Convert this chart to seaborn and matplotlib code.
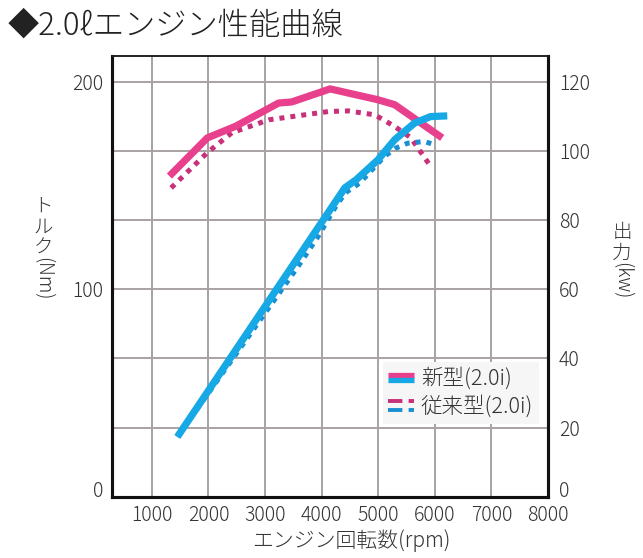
import matplotlib
matplotlib.use("Agg")
import matplotlib.pyplot as plt
import seaborn as sns
import pandas as pd
from matplotlib.lines import Line2D
from matplotlib.legend_handler import HandlerBase

# ---- data ----
rpm_torque_new = [1310, 1980, 2480, 3240, 3470, 4150, 4990, 5290, 6130]
nm_torque_new = [154.5, 172.9, 178.5, 189.7, 190.2, 196.5, 191.3, 188.9, 172.9]

rpm_torque_old = [1340, 1980, 2415, 3065, 4120, 4470, 4940, 5290, 5575, 5905]
nm_torque_old = [148.8, 165.8, 175.4, 181.6, 185.6, 185.9, 184.0, 178.4, 173.0, 160.0]

rpm_power_new = [1450, 4410, 4615, 4995, 5290, 5640, 5925, 6220]
kw_power_new = [17.3, 89.3, 91.7, 97.4, 103.2, 108.0, 109.9, 110.1]

rpm_power_old = [1450, 3590, 3940, 4235, 4415, 4675, 5110, 5315, 5520, 5815, 5990]
kw_power_old = [17.3, 66.7, 75.3, 83.5, 87.8, 90.7, 98.4, 100.8, 102.2, 102.7, 101.8]

x_ticks = [1000, 2000, 3000, 4000, 5000, 6000, 7000, 8000]
left_ticks = [0, 100, 200]
right_ticks = [0, 20, 40, 60, 80, 100, 120]

title = "◆2.0ℓエンジン性能曲線"
x_label = "エンジン回転数(rpm)"
legend_labels = ["新型(2.0i)", "従来型(2.0i)"]

# ---- style ----
sns.set_theme(style="white")
plt.rcParams['font.family'] = ['Noto Sans CJK JP', 'DejaVu Sans']
plt.rcParams['font.weight'] = 'light'
TXT = "#333333"
PINK = "#E8408C"
BLUE = "#17A8E6"
PINK_D = "#C9307A"
BLUE_D = "#1A90D2"
GRID = "#A8A2A2"

W, H = 643, 558
fig = plt.figure(figsize=(W / 100, H / 100), dpi=100)
fig.patch.set_facecolor("white")
L, R, T, B = 111.7, 548, 55.7, 496.7
ax = fig.add_axes([L / W, 1 - B / H, (R - L) / W, (B - T) / H])
ax2 = ax.twinx()

ymax_left = 212.5
ax.set_xlim(290, 7950)
ax.set_ylim(0, ymax_left)
ax2.set_ylim(0, ymax_left * 0.6)

df_tn = pd.DataFrame({"rpm": rpm_torque_new, "v": nm_torque_new})
df_to = pd.DataFrame({"rpm": rpm_torque_old, "v": nm_torque_old})
df_pn = pd.DataFrame({"rpm": rpm_power_new, "v": kw_power_new})
df_po = pd.DataFrame({"rpm": rpm_power_old, "v": kw_power_old})

dot_style = dict(lw=3.6, linestyle=(0, (1.0, 1.2)), dash_capstyle="butt")
solid_style = dict(lw=5.2, solid_capstyle="butt", solid_joinstyle="round")

sns.lineplot(data=df_to, x="rpm", y="v", ax=ax, color=PINK_D, sort=False, **dot_style)
sns.lineplot(data=df_tn, x="rpm", y="v", ax=ax, color=PINK, sort=False, **solid_style)
sns.lineplot(data=df_po, x="rpm", y="v", ax=ax2, color=BLUE_D, sort=False, **dot_style)
sns.lineplot(data=df_pn, x="rpm", y="v", ax=ax2, color=BLUE, sort=False, **solid_style)

# grid: verticals at 1000..7000, horizontals at every 20 kW (=33.3 Nm)
ax.set_xticks(x_ticks)
ax.set_xticklabels([str(t) for t in x_ticks])
grid_nm = [k / 0.6 for k in right_ticks]
ax.set_yticks(grid_nm)
ax.set_yticklabels([str(int(round(g))) if int(round(g)) in left_ticks else "" for g in grid_nm])
ax.grid(True, color=GRID, lw=1.4)
ax.set_axisbelow(True)
ax2.set_yticks(right_ticks)
ax2.set_yticklabels([str(t) for t in right_ticks])
ax2.grid(False)

for a in (ax, ax2):
    a.set_xlabel("")
    a.set_ylabel("")
    a.tick_params(length=0, labelsize=14, labelcolor=TXT)
ax.tick_params(axis="y", pad=6)
ax.tick_params(axis="x", pad=6)
ax2.tick_params(axis="y", pad=8)
# zero labels sit on the baseline, as in the reference
ax.get_yticklabels()[0].set_va("baseline")
ax2.get_yticklabels()[0].set_va("baseline")

for a in (ax, ax2):
    for side in ("left", "bottom", "right"):
        a.spines[side].set_color("#111111")
        a.spines[side].set_linewidth(2.2)
    a.spines["top"].set_color("#222222")
    a.spines["top"].set_linewidth(1.2)

# ---- legend with stacked handles ----
class StackHandler(HandlerBase):
    def __init__(self, offset):
        super().__init__()
        self.offset = offset

    def create_artists(self, legend, orig_handle, xdescent, ydescent, width,
                       height, fontsize, trans):
        arts = []
        yc = height / 2 - ydescent
        for i, h in enumerate(orig_handle):
            dy = self.offset if i == 0 else -self.offset
            ln = Line2D([-xdescent, -xdescent + width], [yc + dy, yc + dy],
                        color=h.get_color(), lw=h.get_linewidth(),
                        linestyle=h.get_linestyle(), dash_capstyle="butt",
                        solid_capstyle="butt")
            ln.set_transform(trans)
            arts.append(ln)
        return arts

h_new = (Line2D([], [], color=PINK, lw=3.8), Line2D([], [], color=BLUE, lw=3.8))
h_old = (Line2D([], [], color=PINK_D, lw=2.8, linestyle=(0, (1.0, 1.1))),
         Line2D([], [], color=BLUE_D, lw=2.8, linestyle=(0, (1.0, 1.1))))

leg = ax2.legend([h_new, h_old], legend_labels,
                 handler_map={h_new: StackHandler(2.0), h_old: StackHandler(3.2)},
                 loc="upper left", bbox_to_anchor=(0.622, 0.305), borderaxespad=0,
                 frameon=True, fancybox=False, fontsize=15.5, handlelength=1.2,
                 handletextpad=0.3, labelspacing=0.25, borderpad=0.25,
                 labelcolor=TXT)
leg.get_frame().set_facecolor("#F6F6F6")
leg.get_frame().set_edgecolor("none")
leg.get_frame().set_alpha(1)

# ---- texts ----
fig.text(8 / W, 1 - 26 / H, title, fontsize=22.5, color="#222222", va="center", ha="left")
fig.text(351 / W, 1 - 541 / H, x_label, fontsize=15, color=TXT, ha="center", va="center")

fig.text(43 / W, 1 - 196 / H, "ト\nル\nク", fontsize=14, color=TXT, ha="center", va="top",
         linespacing=1.0)
fig.text(43 / W, 1 - 257 / H, "(Nm)", fontsize=14, color=TXT, ha="center", va="top",
         rotation=270)
fig.text(622 / W, 1 - 222 / H, "出\n力", fontsize=14, color=TXT, ha="center", va="top",
         linespacing=1.0)
fig.text(622 / W, 1 - 262 / H, "(kw)", fontsize=14, color=TXT, ha="center", va="top",
         rotation=270)

fig.savefig("out.png", dpi=100, facecolor="white")
